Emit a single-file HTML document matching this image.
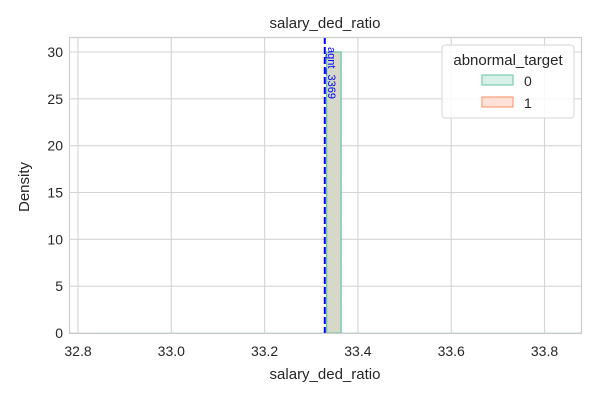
<!DOCTYPE html>
<html><head><meta charset="utf-8"><style>
body{margin:0;background:#fff;font-family:"Liberation Sans",Arial,sans-serif;}
text{font-family:"Liberation Sans",Arial,sans-serif;fill:#262626;}
</style></head><body>
<svg id="chart" width="600" height="400" xmlns="http://www.w3.org/2000/svg">
<g id="grid"></g>
<g id="marks"></g>
<rect x="69.5" y="37.5" width="512" height="296" fill="none" stroke="#cccccc" stroke-width="1.2"/>
<text x="325" y="28" font-size="15" text-anchor="middle">salary_ded_ratio</text>
<text x="325" y="379" font-size="15" text-anchor="middle">salary_ded_ratio</text>
<text transform="translate(29,187) rotate(-90)" font-size="15" text-anchor="middle">Density</text>
<g>
<rect x="442" y="45" width="132" height="73" rx="3" fill="#fff" fill-opacity="0.85" stroke="#d6d6d6"/>
<text x="508" y="65" font-size="15" text-anchor="middle">abnormal_target</text>
<g><rect x="482" y="75" width="31" height="10" fill="#66c2a5" fill-opacity="0.25" stroke="#66c2a5"/><text x="524" y="86" font-size="14">0</text></g>
<g><rect x="482" y="97" width="31" height="10" fill="#fc8d62" fill-opacity="0.25" stroke="#fc8d62"/><text x="524" y="108" font-size="14">1</text></g>
</g>
</svg>
<script>
const xTicks=[32.8,33.0,33.2,33.4,33.6,33.8];
const yTicks=[0,5,10,15,20,25,30];
const binEdges=[33.333,33.364];
const density0=[30];
const density1=[0];
const markerValue=33.329;
const markerLabel="agnt_3369";
const NS="http://www.w3.org/2000/svg";
const X=v=>78+(v-32.8)*466.5;
const Y=v=>333-v*(281/30);
function mk(tag,attrs,parent,txt){const e=document.createElementNS(NS,tag);for(const k in attrs)e.setAttribute(k,attrs[k]);if(txt!==undefined)e.textContent=txt;parent.appendChild(e);return e;}
const grid=document.getElementById('grid'),marks=document.getElementById('marks'),svg=document.getElementById('chart');
xTicks.forEach(t=>{
 mk('line',{x1:X(t),x2:X(t),y1:37,y2:333,stroke:'#d4d4d4','stroke-width':1.1},grid);
 const l=mk('text',{x:X(t),y:356,'font-size':14,'text-anchor':'middle'},svg,t.toFixed(1));
 
 
});
yTicks.forEach(t=>{
 mk('line',{x1:69,x2:582,y1:Y(t),y2:Y(t),stroke:'#d4d4d4','stroke-width':1.1},grid);
 const l=mk('text',{x:63,y:Y(t)+5,'font-size':14,'text-anchor':'end'},svg,String(t));
 
 
});
const bl=mk('line',{x1:92,x2:580,y1:333,y2:333,stroke:'#b9ddd0','stroke-width':1},marks);


density0.forEach((d,i)=>{
 const r=mk('rect',{x:X(binEdges[i]),y:Y(d),width:X(binEdges[i+1])-X(binEdges[i]),height:Y(0)-Y(d),fill:'#d6d8c8',stroke:'#66c2a5','stroke-width':1.2},marks);
 
 
});
density1.forEach((d,i)=>{
 const r=mk('rect',{x:X(binEdges[i]),y:Y(d),width:X(binEdges[i+1])-X(binEdges[i]),height:Y(0)-Y(d),fill:'#fc8d62','fill-opacity':0.25,stroke:'#fc8d62'},marks);
 
 
});
const ml=mk('line',{x1:X(markerValue),x2:X(markerValue),y1:37,y2:333,stroke:'#0000ff','stroke-width':2,'stroke-dasharray':'7,3'},marks);


const mt=mk('text',{transform:`translate(${X(markerValue)+3},47) rotate(90)`,'font-size':11,style:'fill:#0000ff'},marks,markerLabel);


</script>
</body></html>
